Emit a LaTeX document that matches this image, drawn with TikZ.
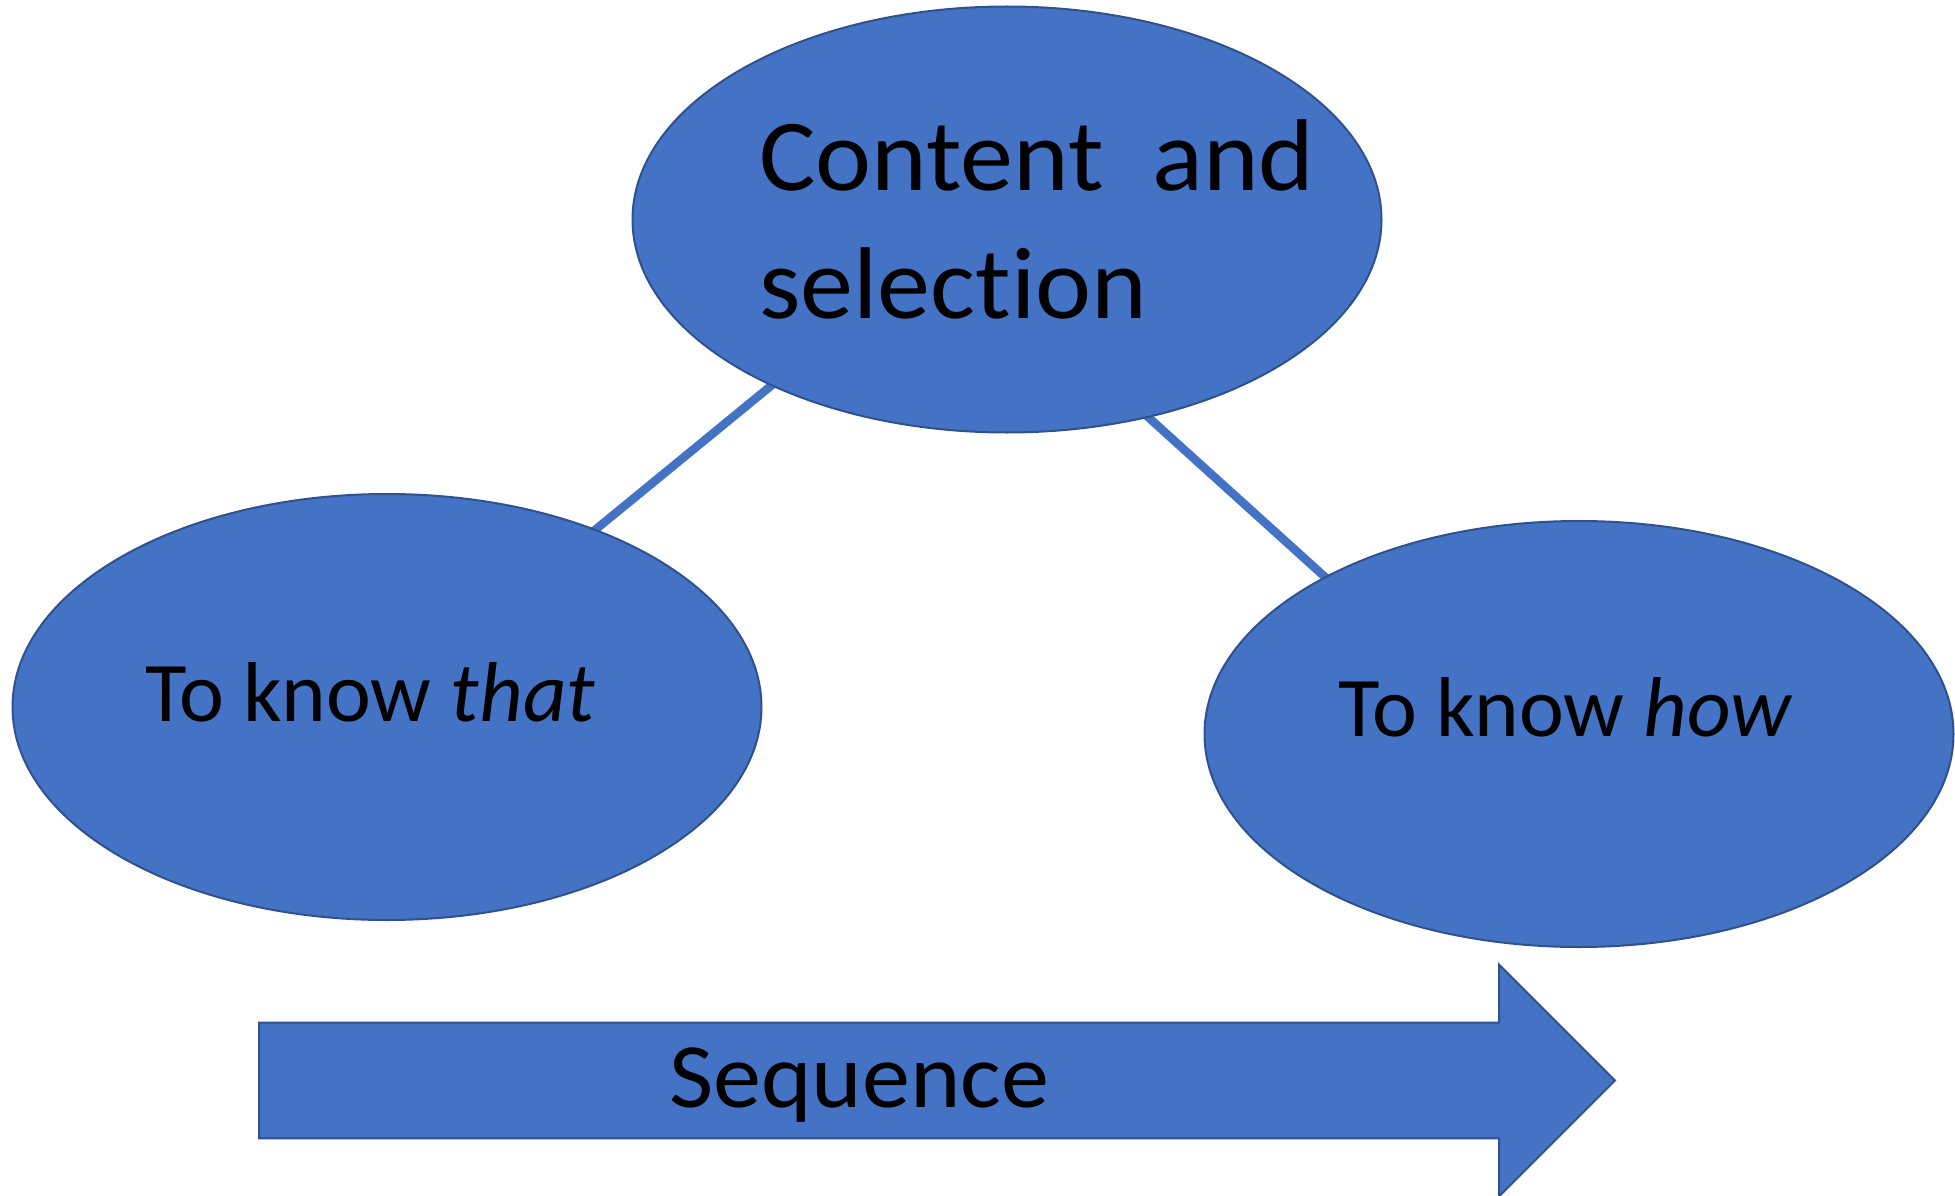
\documentclass[tikz,border=0pt]{standalone}
\usepackage{fontspec}
\setmainfont{Carlito}[RawFeature={-liga;-dlig}]
\usetikzlibrary{shapes.geometric,backgrounds}
\definecolor{shapefill}{HTML}{4472C4}
\definecolor{shapeedge}{HTML}{2F528F}
\tikzset{
  bubble/.style={ellipse, fill=shapefill, draw=shapeedge, line width=2pt,
    minimum width=749pt, minimum height=426pt, inner sep=0pt},
  link/.style={draw=shapefill, line width=8.5pt,
    shorten <=-14pt, shorten >=-14pt},
  label/.style={inner sep=0pt, anchor=base west, text=black},
  arrowbody/.style={fill=shapefill, draw=shapeedge, line width=2pt, line join=miter}
}
\begin{document}
\begin{tikzpicture}[x=1pt,y=-1pt]
  \useasboundingbox (0,0) rectangle (1955,1196);

  % the three ellipses
  \node[bubble] (top)   at (1007,219.5) {};
  \node[bubble] (left)  at (387,707)    {};
  \node[bubble] (right) at (1579,734)   {};

  % connector end points on the ellipse rims
  \coordinate (lt) at (595,530);
  \coordinate (tl) at (772,385);
  \coordinate (tr) at (1148,417);
  \coordinate (rt) at (1325,577);

  % connectors, tucked under the ellipses
  \begin{scope}[on background layer]
    \draw[link] (lt) -- (tl);
    \draw[link] (tr) -- (rt);
  \end{scope}

  % texts
  \node[label, font=\fontsize{102}{127}\selectfont] (c1) at (759,190.7) {\scalebox{1.04}[1]{Content}};
  \node[label, font=\fontsize{102}{127}\selectfont] (c2) at (1152,190.7) {\scalebox{1.04}[1]{and}};
  \node[label, font=\fontsize{102}{127}\selectfont] (c3) at (759,318) {\scalebox{1.04}[1]{selection}};
  \node[label, font=\fontsize{85}{100}\selectfont] (kt) at (145,721.7) {To know \textit{that}};
  \node[label, font=\fontsize{85}{100}\selectfont] (kh) at (1338,736) {To know \textit{how}};

  % sequence arrow
  \coordinate (a1) at (259,1022.7);
  \coordinate (a2) at (1499,1022.7);
  \coordinate (a3) at (1499,964.5);
  \coordinate (a4) at (1615,1080.5);
  \coordinate (a5) at (1499,1196.5);
  \coordinate (a6) at (1499,1138.3);
  \coordinate (a7) at (259,1138.3);
  \path[arrowbody] (a1) -- (a2) -- (a3) -- (a4) -- (a5) -- (a6) -- (a7) -- cycle;
  \node[label, font=\fontsize{92}{100}\selectfont] (sq) at (669,1107) {\scalebox{1.045}[1]{Sequence}};
\end{tikzpicture}
\end{document}
